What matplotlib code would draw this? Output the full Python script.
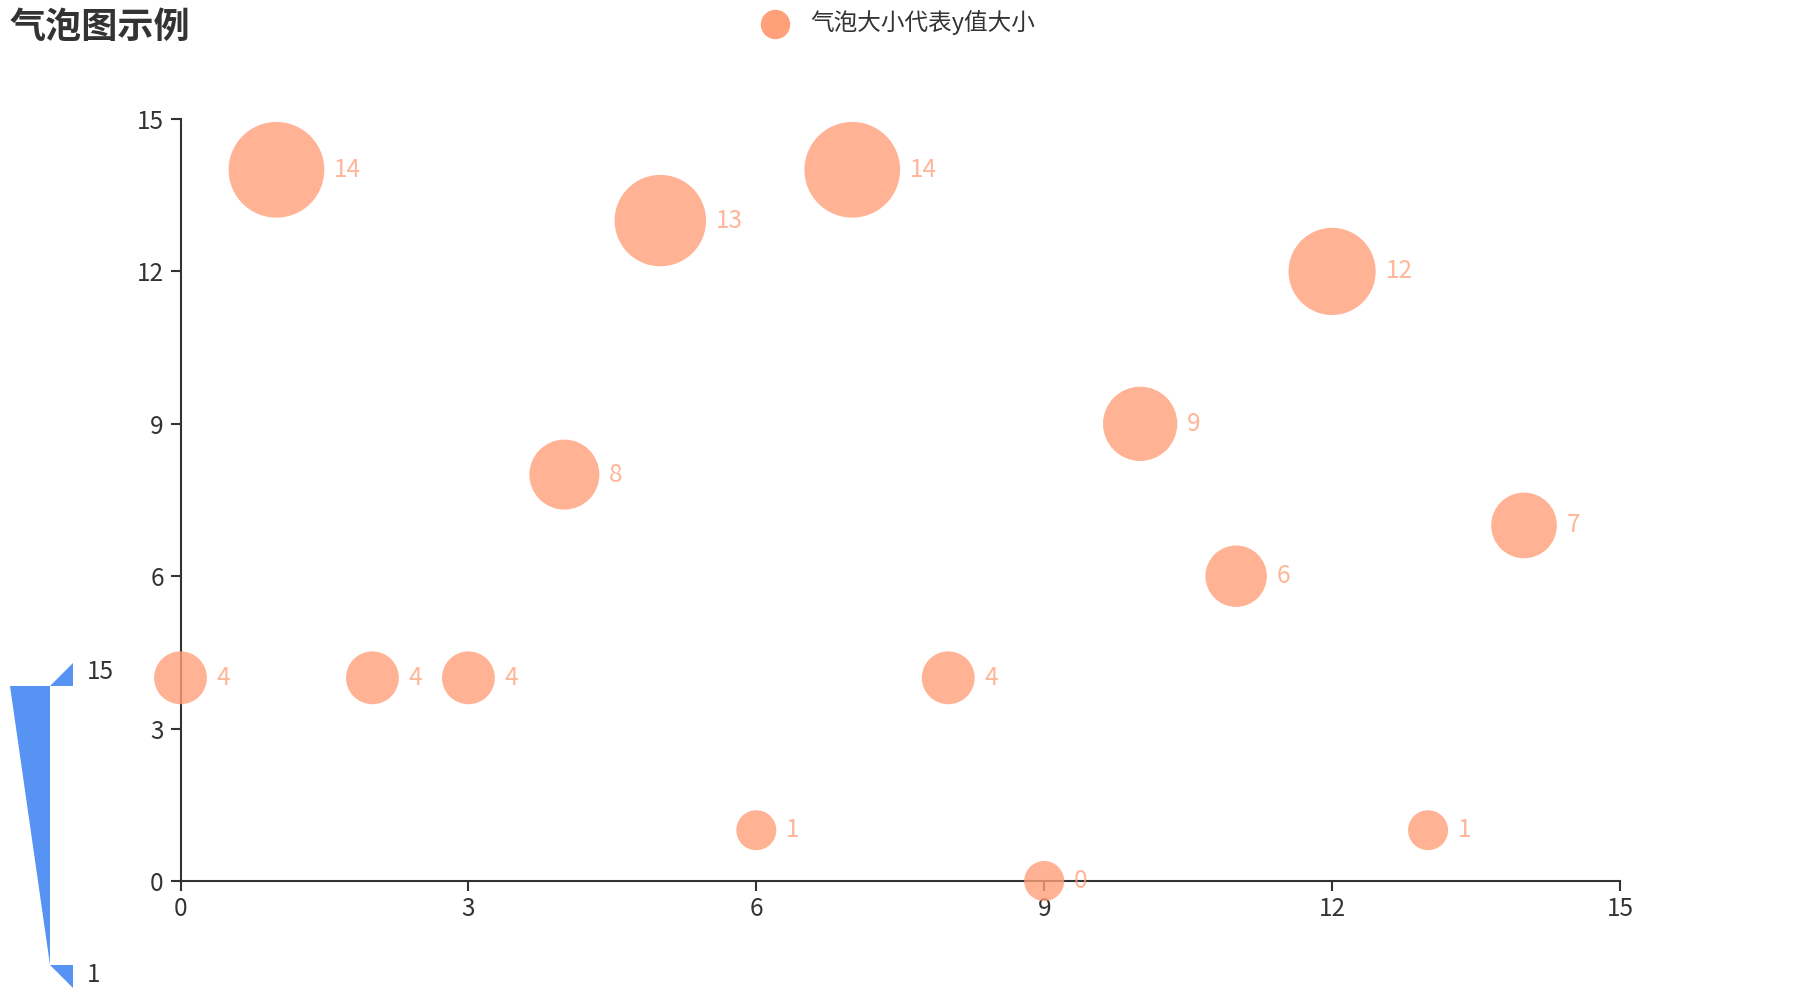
import numpy as np
import matplotlib
matplotlib.use("Agg")
import matplotlib.pyplot as plt
from matplotlib.patches import Polygon
from matplotlib.lines import Line2D

plt.rcParams['font.family'] = ['Noto Sans CJK SC', 'DejaVu Sans']

# data: x position, y value (bubble size follows y)
x_vals = [0, 1, 2, 3, 4, 5, 6, 7, 8, 9, 10, 11, 12, 13, 14]
y_vals = [4, 14, 4, 4, 8, 13, 1, 14, 4, 0, 9, 6, 12, 1, 7]
series_name = "气泡大小代表y值大小"
title = "气泡图示例"
vm_min, vm_max = 1, 15
size_range = [40, 100]   # bubble diameter in px over the visual map range
ticks = [0, 3, 6, 9, 12, 15]

W, H, DPI = 1800, 1000, 100
PX = 72 / DPI  # px -> pt

salmon = "#FFA07A"
text_col = "#333333"
vm_col = "#5793F3"


def diameter(v):
    v = min(max(v, vm_min), vm_max)
    return size_range[0] + (v - vm_min) / (vm_max - vm_min) * (size_range[1] - size_range[0])


def fx(px):
    return px / W


def fy(py):
    return 1 - py / H


fig = plt.figure(figsize=(W / DPI, H / DPI), dpi=DPI)
ax = fig.add_axes([fx(180.5), fy(881), fx(1620) - fx(180.5), fy(119) - fy(881)])

diam = np.array([diameter(v) for v in y_vals])
ax.scatter(x_vals, y_vals, s=(diam * PX) ** 2, color=salmon, alpha=0.8,
           edgecolors="none", clip_on=False, zorder=3)

for x, y, d in zip(x_vals, y_vals, diam):
    ax.annotate(str(y), (x, y), xytext=((d / 2 + 10) * PX, 0), textcoords="offset points",
                ha="left", va="center", fontsize=17.5, color=salmon, alpha=0.78,
                annotation_clip=False, zorder=4)

ax.set_xlim(0, 15)
ax.set_ylim(0, 15)
ax.set_xticks(ticks)
ax.set_yticks(ticks)
for s in ["top", "right"]:
    ax.spines[s].set_visible(False)
for s in ["left", "bottom"]:
    ax.spines[s].set_color(text_col)
    ax.spines[s].set_linewidth(1.5)
ax.tick_params(direction="out", length=7, width=1.5, color=text_col,
               labelsize=17.5, labelcolor=text_col)
ax.tick_params(axis="y", pad=5)
ax.tick_params(axis="x", pad=4)

# title
fig.text(fx(10), fy(27), title, fontsize=26, fontweight="bold", color=text_col,
         ha="left", va="center")

# legend
fig.add_artist(Line2D([fx(775)], [fy(24)], marker="o", markersize=28 * PX,
                      color=salmon, linestyle="none", transform=fig.transFigure))
fig.text(fx(810), fy(23), series_name, fontsize=17, color=text_col, ha="left", va="center")

# visual map (continuous, size)
vm_shapes = [
    [(10, 686), (50, 686), (50, 965)],
    [(50, 686), (73, 663), (73, 686)],
    [(50, 965), (73, 965), (73, 988)],
]
for pts in vm_shapes:
    fig.add_artist(Polygon([(fx(a), fy(b)) for a, b in pts], closed=True,
                           facecolor=vm_col, edgecolor="none", transform=fig.transFigure))
fig.text(fx(87), fy(672), str(vm_max), fontsize=17.5, color=text_col, ha="left", va="center")
fig.text(fx(87), fy(975), str(vm_min), fontsize=17.5, color=text_col, ha="left", va="center")

fig.savefig("out.png", dpi=DPI)
